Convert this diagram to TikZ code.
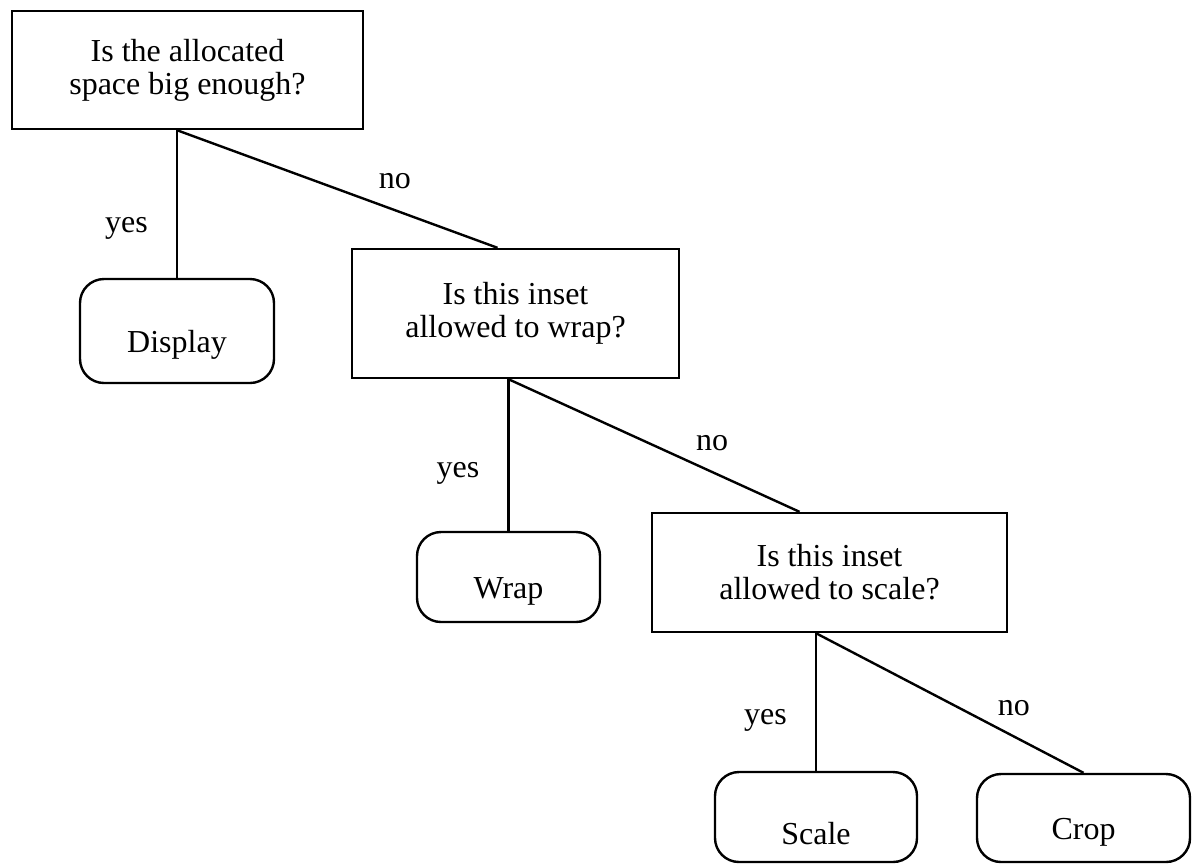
\documentclass[tikz,border=0pt]{standalone}
\usepackage{fontspec}
\setmainfont{Liberation Serif}
\tikzset{
  qbox/.style={draw,align=center,inner sep=2pt},
  endbox/.style={draw,rounded corners=12pt,inner sep=0pt,text height=21pt,text depth=0pt},
  ans/.style={inner sep=0pt,text depth=0pt}
}
\begin{document}
\begin{tikzpicture}[x=0.5pt,y=-0.5pt,line width=1.2pt,font=\fontsize{16}{16.5}\selectfont]
\useasboundingbox (0,0) rectangle (1192,864);
%questions
\node (q1) at (187.5,70) [qbox,minimum width=175.5pt,minimum height=59pt] {Is the allocated\\space big enough?};
\node (q2) at (515.5,313.5) [qbox,minimum width=163.5pt,minimum height=64.5pt] {Is this inset\\allowed to wrap?};
\node (q3) at (829.5,572.5) [qbox,minimum width=177.5pt,minimum height=59.5pt] {Is this inset\\allowed to scale?};

%answers
\node (disp) at (177,331) [endbox,minimum width=97pt,minimum height=52pt] {Display};
\node (wrap) at (508.5,577) [endbox,minimum width=91.5pt,minimum height=45pt] {Wrap};
\node (scale) at (816,817) [endbox,minimum width=101pt,minimum height=45pt,text height=27pt] {Scale};
\node (crop) at (1083.5,818) [endbox,minimum width=106.5pt,minimum height=44pt] {Crop};

%branches
\draw (disp.north |- q1.south) coordinate (q1out) -- node[ans,left=14pt,pos=.64]{yes} (disp.north);
\draw (q1out) -- node[ans,above=10pt,pos=.68]{no} ([xshift=-9pt]q2.north);
\draw (wrap.north |- q2.south) coordinate (q2out) -- node[ans,left=14pt,pos=.6]{yes} (wrap.north);
\draw (q2out) -- node[ans,above=10pt,pos=.7]{no} ([xshift=-15pt]q3.north);
\draw (scale.north |- q3.south) coordinate (q3out) -- node[ans,left=14pt,pos=.61]{yes} (scale.north);
\draw (q3out) -- node[ans,above=10pt,pos=.74]{no} (crop.north);
\end{tikzpicture}
\end{document}
